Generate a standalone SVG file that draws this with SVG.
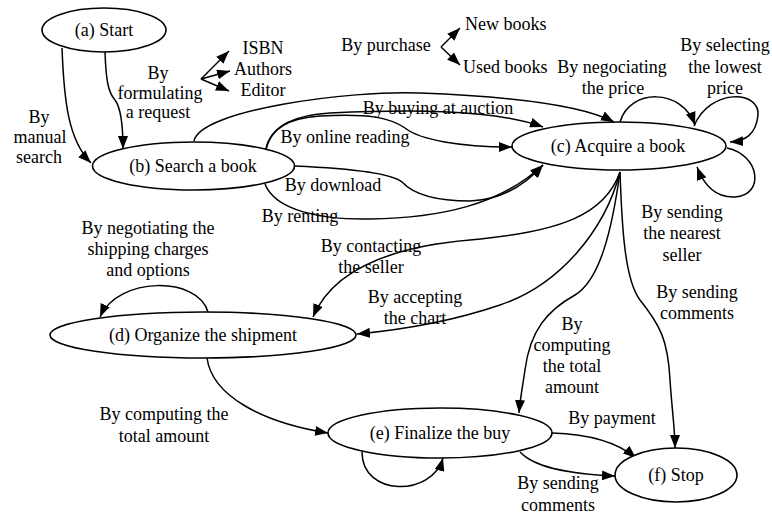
<svg xmlns="http://www.w3.org/2000/svg" width="772" height="514" viewBox="0 0 772 514">
  <style>
    text { font-family: "Liberation Serif", "Times New Roman", serif; font-size: 18px; fill: #000; text-anchor: middle; }
    .start { text-anchor: start; }
    .node ellipse { fill: #fff; stroke: #000; stroke-width: 1.6; }
    .edge { fill: none; stroke: #000; stroke-width: 1.5; marker-end: url(#arrow); }
  </style>
  <defs>
    <marker id="arrow" markerUnits="userSpaceOnUse" markerWidth="14" markerHeight="10" refX="13" refY="5" orient="auto">
      <path d="M0,0 L13,5 L0,10 z" fill="#000"/>
    </marker>
  </defs>
  <rect width="772" height="514" fill="#fff"/>

  <!-- connectors -->
  <g id="connectors">
    <!-- (a) -> (b) -->
    <path class="edge" d="M62,48 C64,100 68,140 91,163"/>
    <path class="edge" d="M105,52 C106,80 108,92 115,100 C121,108 123,125 123,149"/>
    <!-- (b) -> (c) -->
    <path class="edge" d="M194,141 C200,110 350,90 420,93 C500,96 580,104 614,122"/>
    <path class="edge" d="M266,149 C272,125 295,115 330,113 C400,110 490,108 543,127"/>
    <path class="edge" d="M266,149 C270,128 290,118 320,116 C370,113 390,118 405,128 C420,140 460,147 512,147"/>
    <path class="edge" d="M295,166 C340,168 390,172 402,182 C415,196 440,201 470,201 C500,200 525,185 543,165"/>
    <path class="edge" d="M265,184 C275,210 320,220 370,219 C440,218 500,205 543,165"/>
    <!-- (c) self loops -->
    <path class="edge" d="M620,122 C630,88 682,88 695,125"/>
    <path class="edge" d="M694,126 C710,88 760,90 758,115 C756,135 745,141 730,142"/>
    <path class="edge" d="M727,148 C760,155 765,195 735,197 C715,198 704,185 697,167"/>
    <!-- (c) -> (d), (e), (f) -->
    <path class="edge" d="M620,172 C605,215 560,232 470,240 C400,246 335,265 313,317"/>
    <path class="edge" d="M620,172 C605,230 560,285 500,305 C450,322 400,330 357,334"/>
    <path class="edge" d="M620,172 C612,230 600,280 575,295 C548,310 530,330 525,370 C522,390 520,400 519,413"/>
    <path class="edge" d="M620,172 C622,230 625,280 640,300 C660,325 668,340 670,380 C672,410 675,430 675,448"/>
    <!-- (d) self loop and (d) -> (e) -->
    <path class="edge" d="M208,312 C198,276 118,276 100,317"/>
    <path class="edge" d="M207,358 C212,395 260,422 328,433"/>
    <!-- (e) self loop and (e) -> (f) -->
    <path class="edge" d="M362,452 C362,497 432,497 443,458"/>
    <path class="edge" d="M552,433 C585,434 615,440 636,458"/>
    <path class="edge" d="M520,452 C535,468 570,474 615,476"/>
    <!-- request fan -->
    <path class="edge" d="M201,79 L229,51"/>
    <path class="edge" d="M201,79 L230,71"/>
    <path class="edge" d="M201,79 L229,91"/>
    <!-- purchase fan -->
    <path class="edge" d="M441,47 L460,28"/>
    <path class="edge" d="M441,47 L460,65"/>
  </g>

  <!-- nodes -->
  <g id="node-a" class="node">
    <ellipse cx="104" cy="30" rx="62" ry="22"/>
    <text x="104" y="36">(a) Start</text>
  </g>
  <g id="node-b" class="node">
    <ellipse cx="193.5" cy="166" rx="101" ry="24"/>
    <text x="193" y="172">(b) Search a book</text>
  </g>
  <g id="node-c" class="node">
    <ellipse cx="619" cy="146" rx="107" ry="24"/>
    <text x="618" y="152">(c) Acquire a book</text>
  </g>
  <g id="node-d" class="node">
    <ellipse cx="203" cy="335" rx="153" ry="23"/>
    <text x="203" y="341">(d) Organize the shipment</text>
  </g>
  <g id="node-e" class="node">
    <ellipse cx="440" cy="433" rx="112" ry="25"/>
    <text x="440" y="439">(e) Finalize the buy</text>
  </g>
  <g id="node-f" class="node">
    <ellipse cx="676" cy="475" rx="61" ry="27"/>
    <text x="676" y="481">(f) Stop</text>
  </g>

  <!-- edge labels -->
  <g id="labels">
    <text x="39" y="123">By</text>
    <text x="40" y="143">manual</text>
    <text x="39" y="163">search</text>

    <text x="158" y="79">By</text>
    <text x="160" y="99">formulating</text>
    <text x="158" y="118">a request</text>

    <text x="263" y="54">ISBN</text>
    <text x="263" y="75">Authors</text>
    <text x="263" y="96">Editor</text>

    <text x="386" y="51">By purchase</text>
    <text class="start" x="465" y="30">New books</text>
    <text class="start" x="463" y="73">Used books</text>

    <text x="612" y="73">By negociating</text>
    <text x="613" y="94">the price</text>

    <text x="725" y="51">By selecting</text>
    <text x="725" y="73">the lowest</text>
    <text x="725" y="94">price</text>

    <text x="438" y="114">By buying at auction</text>
    <text x="345" y="143">By online reading</text>
    <text x="333" y="191">By download</text>
    <text x="300" y="222">By renting</text>

    <text x="148" y="234">By negotiating the</text>
    <text x="148" y="255">shipping charges</text>
    <text x="148" y="276">and options</text>

    <text x="371" y="252">By contacting</text>
    <text x="371" y="273">the seller</text>

    <text x="415" y="303">By accepting</text>
    <text x="415" y="324">the chart</text>

    <text x="682" y="218">By sending</text>
    <text x="682" y="239">the nearest</text>
    <text x="682" y="261">seller</text>

    <text x="697" y="298">By sending</text>
    <text x="697" y="319">comments</text>

    <text x="572" y="330">By</text>
    <text x="572" y="351">computing</text>
    <text x="572" y="372">the total</text>
    <text x="572" y="393">amount</text>

    <text x="164" y="420">By computing the</text>
    <text x="164" y="442">total amount</text>

    <text x="612" y="424">By payment</text>

    <text x="558" y="489">By sending</text>
    <text x="558" y="511">comments</text>
  </g>
</svg>
